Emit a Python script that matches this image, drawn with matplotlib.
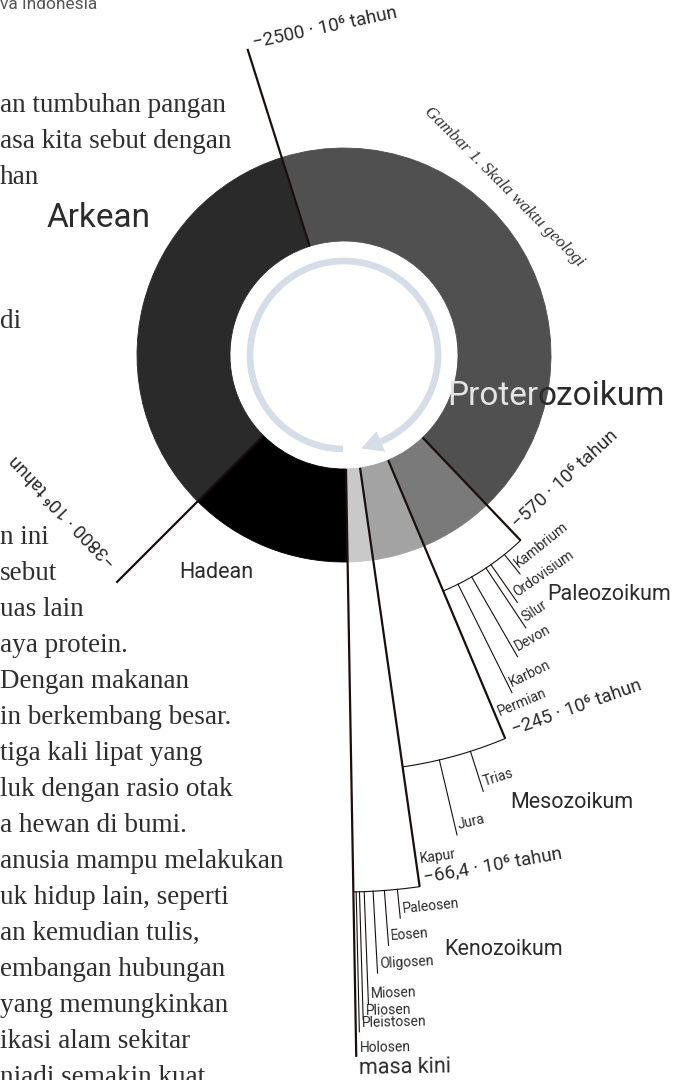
import numpy as np
import matplotlib
matplotlib.use("Agg")
import matplotlib.pyplot as plt

W, H = 686, 1080

# eras, ages in million years ago
era_names = ["Hadean", "Arkean", "Proterozoikum", "Paleozoikum", "Mesozoikum", "Kenozoikum"]
era_start = [4600, 3800, 2500, 570, 245, 66.4]
era_end = [3800, 2500, 570, 245, 66.4, 0]

# boundaries that get a "-x · 10⁶ tahun" label
labelled_ages = [3800, 2500, 570, 245, 66.4]

# periods / epochs, age at the end of each one
paleo_names = ["Kambrium", "Ordovisium", "Silur", "Devon", "Karbon", "Permian"]
paleo_ends = [495, 436, 415, 356, 302, 245]
meso_names = ["Trias", "Jura", "Kapur"]
meso_ends = [183, 129, 66.4]
ceno_names = ["Paleosen", "Eosen", "Oligosen", "Miosen", "Pliosen", "Pleistosen", "Holosen"]
ceno_ends = [44, 31, 19.7, 10.8, 6.1, 2.8, 0]

present_label = "masa kini"
caption = "Gambar 1. Skala waktu geologi"
header = "va Indonesia"

# book text that shows on the left of the figure (cut at the page edge)
page_lines = ["an tumbuhan pangan", "asa kita sebut dengan", "han", "", "", "",
              "di", "", "", "", "", "",
              "n ini", "sebut", "uas lain", "aya protein.", "Dengan makanan",
              "in berkembang besar.", "tiga kali lipat yang", "luk dengan rasio otak",
              "a hewan di bumi.", "anusia mampu melakukan", "uk hidup lain, seperti",
              "an kemudian tulis,", "embangan hubungan", "yang memungkinkan",
              "ikasi alam sekitar", "njadi semakin kuat"]

# ---- styling / layout ----
era_colors = ["#000000", "#2a2a2a", "#505050", "#7a7a7a", "#a3a3a3", "#c9c9c9"]
LINE_C = "#1a0e0e"
TXT_C = "#2b2b2b"
SANS = ["Roboto", "DejaVu Sans"]
CX, CY = 344, 355          # ring centre in pixels
RMAX = 760
R_IN, R_OUT = 114, 207
# the ring is not drawn to scale: angle (clockwise from bottom) of each era boundary
scale_age = np.array(era_start + [0])
scale_deg = np.array([-1, 45, 162.5, 316.4, 337.2, 351.9, 359])
# how far each boundary line reaches
line_end = {3800: 322, 2500: 321, 570: 256, 245: 416, 66.4: 537, 0: 702}
# time label placement: (inward, along, rotation) in pixels / degrees
time_lbl_pos = {3800: (12, 15, 134), 2500: (-4, 7, 12), 570: (15, 6, 42.5),
                245: (5, 10, 19.5), 66.4: (8.5, 5, 10)}


def theta(age):
    # np.interp wants increasing x, ages decrease along the ring
    return np.radians(np.interp(-np.asarray(age, float), -scale_age, scale_deg))


fig = plt.figure(figsize=(W / 100, H / 100), dpi=100)
fig.patch.set_facecolor("white")

# page text
for i, s in enumerate(page_lines):
    if s:
        fig.text(0, 1 - (111.5 + 36 * i) / H, s, fontsize=19.5, family="Liberation Serif",
                 color="#2e2e2e", ha="left", va="baseline")
fig.text(0, 1 - 9 / H, header, fontsize=12.5, family=SANS, color="#555555", ha="left", va="baseline")

ax = fig.add_axes([(CX - RMAX) / W, (H - CY - RMAX) / H, 2 * RMAX / W, 2 * RMAX / H],
                  projection="polar")
ax.set_theta_zero_location("S")
ax.set_theta_direction(-1)
ax.set_ylim(0, RMAX)
ax.set_axis_off()

# ring
for s, e, c in zip(era_start, era_end, era_colors):
    t0, t1 = theta(s), theta(e)
    ax.bar(t0, R_OUT - R_IN, width=t1 - t0, bottom=R_IN, align="edge",
           color=c, edgecolor=c, linewidth=0.6)

# circular arrow in the hole
arr_c = "#d5dde8"
tt = np.radians(np.linspace(0.6, 337, 300))
ax.plot(tt, np.full_like(tt, 94), color=arr_c, lw=4.8, solid_capstyle="butt")
ax.fill(np.radians([337, 337, 349.5]), [83, 105, 95], color=arr_c, lw=0)

# boundary lines
for age, r1 in line_end.items():
    t = theta(age)
    ax.plot([t, t], [R_IN, r1], color=LINE_C, lw=1.6, solid_capstyle="butt", clip_on=False)


def tangent_text(age, r, s, along, inward, size, rot=None):
    th = float(np.degrees(theta(age)))
    ang = -90 - th
    tan_rot = (ang - 90 + 180) % 360 - 180
    sign = 1
    if tan_rot < -90:
        tan_rot += 180
        sign = -1
    if rot is None:
        rot = tan_rot
    th_txt = th + sign * np.degrees(along / r)
    ax.text(np.radians(th_txt), r - inward, s, rotation=rot, rotation_mode="anchor",
            ha="left", va="center", fontsize=size, family=SANS, color=TXT_C, clip_on=False)


for age in labelled_ages:
    inward, along, rot = time_lbl_pos[age]
    s = "\u2212" + f"{age:g}".replace(".", ",") + " \u00b7 10\u2076 tahun"
    tangent_text(age, line_end[age], s, along, inward, 13.5, rot)

# period fans: arc + staggered ticks
fans = [
    (paleo_names, paleo_ends, 570, 256, [281, 302, 328, 348, 377]),
    (meso_names, meso_ends, 245, 416, [458, 493]),
    (ceno_names, ceno_ends, 66.4, 537, [566, 592, 619, 649, 665, 677]),
]
for names, ends, start, r_arc, tick_r in fans:
    ta = np.linspace(float(theta(start)), float(theta(ends[-1])), 80)
    ax.plot(ta, np.full_like(ta, r_arc), color=LINE_C, lw=0.8, clip_on=False)
    for name, age, r1 in zip(names[:-1], ends[:-1], tick_r):
        t = theta(age)
        ax.plot([t, t], [r_arc, r1], color=LINE_C, lw=0.8, clip_on=False)
        tangent_text(age, r1, name, 3, 9, 10)
    # last period sits at the era line
    inward = 9 if ends[-1] == 0 else 27
    tangent_text(ends[-1], line_end[ends[-1]], names[-1], 4, inward, 10)

tangent_text(0, line_end[0], present_label, 2, -12, 15.5)

# era names
era_lbl_pos = {"Arkean": (117.6, 277, 24), "Hadean": (29.8, 257, 15.5),
               "Paleozoikum": (312.75, 361, 15.5), "Mesozoikum": (333.3, 507, 15.5),
               "Kenozoikum": (345.1, 621, 15.5)}
for name, (th, r, fs) in era_lbl_pos.items():
    ax.text(np.radians(th), r, name, ha="center", va="baseline", fontsize=fs,
            family=SANS, color=TXT_C, clip_on=False)
# Proterozoikum: part over the ring is light
name = era_names[2]
ax.text(np.radians(284.45), 200.3, name[:6], ha="right", va="baseline", fontsize=24,
        family=SANS, color="#e4e4e4", clip_on=False)
ax.text(np.radians(284.45), 200.3, name[6:], ha="left", va="baseline", fontsize=24,
        family=SANS, color=TXT_C, clip_on=False)

ax.text(np.radians(223.6), 232, caption, rotation=-45, rotation_mode="anchor",
        ha="center", va="center", fontsize=12.4, family="Liberation Serif",
        style="italic", color="#333333", clip_on=False)

fig.savefig("out.png", dpi=100)
